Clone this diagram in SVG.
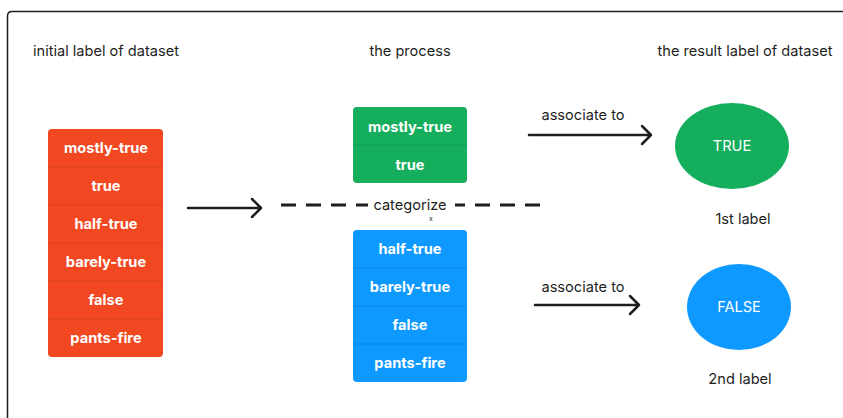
<svg xmlns="http://www.w3.org/2000/svg" width="843" height="418" viewBox="0 0 843 418">
<style>
text{font-family:Inter,"Liberation Sans",sans-serif;text-anchor:middle;dominant-baseline:central}
.t{font-size:14.6px;fill:#1e1e1e}
.b{font-size:14.6px;font-weight:700;fill:#fff}
.sep{stroke:#000;stroke-opacity:0.1;stroke-width:1}
.arr{stroke:#1e1e1e;stroke-width:2.5;fill:none;stroke-linecap:round;stroke-linejoin:round}
</style>
<rect width="843" height="418" fill="#fff"/>
<path d="M7.5,430 V16 Q7.5,11.5 12,11.5 H860" fill="none" stroke="#1e1e1e" stroke-width="1.5"/>
<g id="titles">
<text class="t" x="106" y="51">initial label of dataset</text>
<text class="t" x="410" y="51">the process</text>
<text class="t" x="745" y="51">the result label of dataset</text>
</g>
<g id="initial">
<rect x="48" y="129" width="115" height="228" rx="4" fill="#F24822"/>
<line class="sep" x1="48" y1="167" x2="163" y2="167"/>
<line class="sep" x1="48" y1="205" x2="163" y2="205"/>
<line class="sep" x1="48" y1="243" x2="163" y2="243"/>
<line class="sep" x1="48" y1="281" x2="163" y2="281"/>
<line class="sep" x1="48" y1="319" x2="163" y2="319"/>
<text class="b" x="106" y="148">mostly-true</text>
<text class="b" x="106" y="186">true</text>
<text class="b" x="106" y="224">half-true</text>
<text class="b" x="106" y="262">barely-true</text>
<text class="b" x="106" y="300">false</text>
<text class="b" x="106" y="338">pants-fire</text>
</g>
<g id="true-group">
<rect x="353" y="107" width="114" height="76" rx="4" fill="#14AE5C"/>
<line class="sep" x1="353" y1="145" x2="467" y2="145"/>
<text class="b" x="410" y="127">mostly-true</text>
<text class="b" x="410" y="165">true</text>
</g>
<g id="false-group">
<rect x="353" y="230" width="114" height="152" rx="4" fill="#0D99FF"/>
<line class="sep" x1="353" y1="268" x2="467" y2="268"/>
<line class="sep" x1="353" y1="306" x2="467" y2="306"/>
<line class="sep" x1="353" y1="344" x2="467" y2="344"/>
<text class="b" x="410" y="249">half-true</text>
<text class="b" x="410" y="287">barely-true</text>
<text class="b" x="410" y="325">false</text>
<text class="b" x="410" y="363">pants-fire</text>
</g>
<g id="true-label">
<ellipse cx="732" cy="146" rx="57" ry="43" fill="#14AE5C"/>
<text x="732" y="146" style="font-size:14.6px;fill:#fff">TRUE</text>
<text class="t" x="743" y="219">1st label</text>
</g>
<g id="false-label">
<ellipse cx="739" cy="307" rx="52" ry="43" fill="#0D99FF"/>
<text x="739" y="307" style="font-size:14.6px;fill:#fff">FALSE</text>
<text class="t" x="740" y="379">2nd label</text>
</g>
<g id="connectors">
<path class="arr" d="M188,208 H261 M252,199 L261,208 L252,217"/>
<line x1="281" y1="205" x2="368" y2="205" stroke="#1e1e1e" stroke-width="3" stroke-dasharray="15,10"/>
<line x1="540" y1="205" x2="455" y2="205" stroke="#1e1e1e" stroke-width="3" stroke-dasharray="15,10"/>
<text class="t" x="410" y="205">categorize</text>
<text x="431" y="218" style="font-size:7px;fill:#333">x</text>
<path class="arr" d="M529,135 H651 M642,126 L651,135 L642,144"/>
<text class="t" x="583" y="115">associate to</text>
<path class="arr" d="M535,305 H639 M630,296 L639,305 L630,314"/>
<text class="t" x="583" y="287">associate to</text>
</g>
</svg>
